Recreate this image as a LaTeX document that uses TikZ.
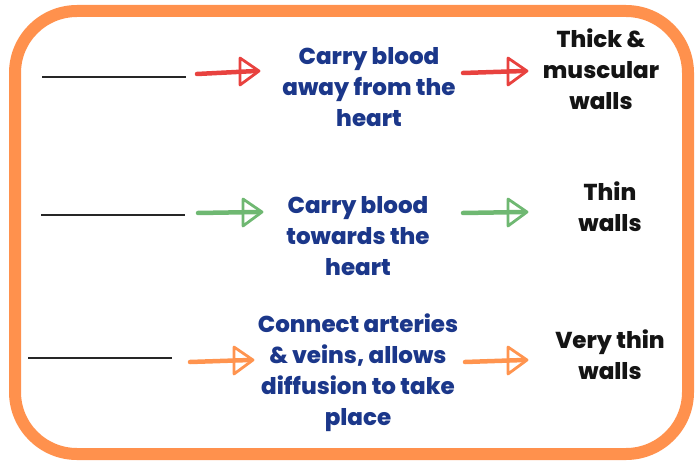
\documentclass[tikz,border=0pt]{standalone}
\usepackage{fontspec}
\setmainfont{Poppins}[BoldFont={* ExtraBold}]
\usetikzlibrary{calc}
\definecolor{frameor}{HTML}{FF914D}
\definecolor{txtblue}{HTML}{1B378A}
\definecolor{arrred}{HTML}{E8423F}
\definecolor{arrgreen}{HTML}{6FB872}
\definecolor{arror}{HTML}{FF944F}
\tikzset{
  bluetxt/.style={text=txtblue, font=\fontsize{23}{31}\selectfont\bfseries, align=center, inner sep=0pt},
  blacktxt/.style={text=black!92, font=\fontsize{23}{31}\selectfont\bfseries, align=center, inner sep=0pt},
  blank/.style={draw=black!85, line width=1.6pt},
  shaft/.style={draw=#1, line width=4.5pt, line cap=round},
  headline/.style={draw=#1, line width=2.8pt, line join=round, line cap=round},
}
\begin{document}
\begin{tikzpicture}[x=1pt, y=-1pt]
\useasboundingbox (0,0) rectangle (700,462);
% frame
\draw[frameor, line width=12pt, rounded corners=62pt] (15,11) rectangle (688,454);

% blank lines
\coordinate (b1a) at (42,77); \coordinate (b1b) at (186,77);
\coordinate (b2a) at (41,215); \coordinate (b2b) at (185,215);
\coordinate (b3a) at (28,358); \coordinate (b3b) at (172,358);
\draw[blank] (b1a) -- (b1b);
\draw[blank] (b2a) -- (b2b);
\draw[blank] (b3a) -- (b3b);

% texts
\node[bluetxt] (t1) at (369,87) {Carry blood\\away from the\\heart};
\node[bluetxt] (t2) at (358,236) {Carry blood\\towards the\\heart};
\node[bluetxt] (t3) at (358,373) {Connect arteries\\\&\,veins, allows\\diffusion to take\\place};
\node[blacktxt] (r1) at (601,69) {Thick \&\\muscular\\walls};
\node[blacktxt] (r2) at (610,207) {Thin\\walls};
\node[blacktxt] (r3) at (610,355) {Very thin\\walls};

% arrows
\coordinate (a1s) at (197,74); \coordinate (a1e) at (259,71);
\coordinate (a2s) at (463,73); \coordinate (a2e) at (527,71);
\coordinate (a3s) at (198,213); \coordinate (a3e) at (262,212);
\coordinate (a4s) at (463,213); \coordinate (a4e) at (527,212);
\coordinate (a5s) at (190,362); \coordinate (a5e) at (253,360);
\coordinate (a6s) at (465,362); \coordinate (a6e) at (527,360);

\foreach \s/\e/\c in {a1s/a1e/arrred, a2s/a2e/arrred, a3s/a3e/arrgreen, a4s/a4e/arrgreen, a5s/a5e/arror, a6s/a6e/arror}{
  \draw[shaft=\c] (\s) -- ($(\e)+(-3,0)$);
  \draw[headline=\c] ($(\e)+(-19,-13)$) -- (\e) -- ($(\e)+(-19,14)$) -- cycle;
}
\end{tikzpicture}
\end{document}
